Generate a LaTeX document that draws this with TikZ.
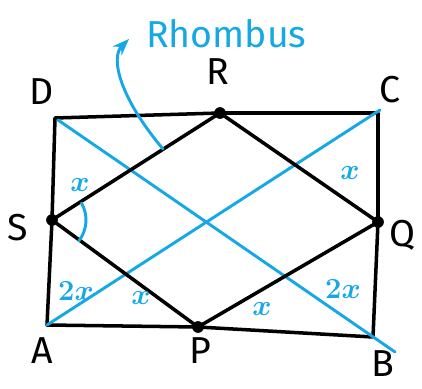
\documentclass[tikz,border=0pt]{standalone}
\usepackage{fontspec}
\setmainfont{Fira Sans}
\usetikzlibrary{arrows.meta}

\definecolor{pen}{RGB}{22,168,228}

\begin{document}
\begin{tikzpicture}[
    x=0.03cm,
    y=0.03cm,
    >=Stealth,
    side/.style={line width=3pt, line cap=round, line join=round},
    diag/.style={pen, line width=2.5pt, line cap=round},
    dot/.style={circle, fill=black, inner sep=0pt, minimum size=10pt},
    vertex/.style={font=\fontsize{32}{34}\selectfont},
    angle/.style={pen, font=\fontsize{28}{30}\selectfont\boldmath}
]
\useasboundingbox (0,0) rectangle (422,388);

% =========================
% Rectangle corners and midpoints
% =========================
\coordinate (A) at (47,63);
\coordinate (B) at (373,51);
\coordinate (C) at (378,275);
\coordinate (D) at (55,270);

\coordinate (P) at (198,61);
\coordinate (Q) at (378,166);
\coordinate (R) at (220,275);
\coordinate (S) at (52,168);

% ends of the diagonals
\coordinate (Dd) at (58,268);
\coordinate (Bd) at (395,36);
\coordinate (Cd) at (380,278);

% Rectangle
\draw[side] (A) -- (P) -- (B) -- (Q) -- (C) -- (R) -- (D) -- (S) -- cycle;

% Diagonals
\draw[diag] (Dd) -- (Bd);
\draw[diag] (A) -- (Cd);

% Rhombus
\draw[side] (P) -- (Q) -- (R) -- (S) -- cycle;

\node[dot] (p) at (P) {};
\node[dot] (q) at (Q) {};
\node[dot] (r) at (R) {};
\node[dot] (s) at (S) {};

% Vertex labels
\node[vertex] (lA) at (42,37)  {A};
\node[vertex] (lB) at (383,24) {B};
\node[vertex] (lC) at (390,298) {C};
\node[vertex] (lD) at (42,296) {D};
\node[vertex] (lP) at (200,37) {P};
\node[vertex] (lQ) at (402,153) {Q};
\node[vertex] (lR) at (218,316) {R};
\node[vertex] (lS) at (18,160) {S};

% =========================
% Angles
% =========================
\draw[diag] (S) ++(-38:34) arc (-38:30:34);

\node[angle] (a1) at (80,203) {$x$};
\node[angle] (a2) at (76,97) {$2x$};
\node[angle] (a3) at (141,90) {$x$};
\node[angle] (a4) at (350,215) {$x$};
\node[angle] (a5) at (262,79) {$x$};
\node[angle] (a6) at (343,99) {$2x$};

% =========================
% Rhombus label
% =========================
\node[pen, font=\fontsize{32}{34}\selectfont, anchor=west] (name) at (142,354) {Rhombus};
\coordinate (tail) at (163,239);
\coordinate (tip) at (129,349);

\draw[diag, ->] (tail) .. controls (120,290) and (110,330) .. (tip);

\end{tikzpicture}
\end{document}
